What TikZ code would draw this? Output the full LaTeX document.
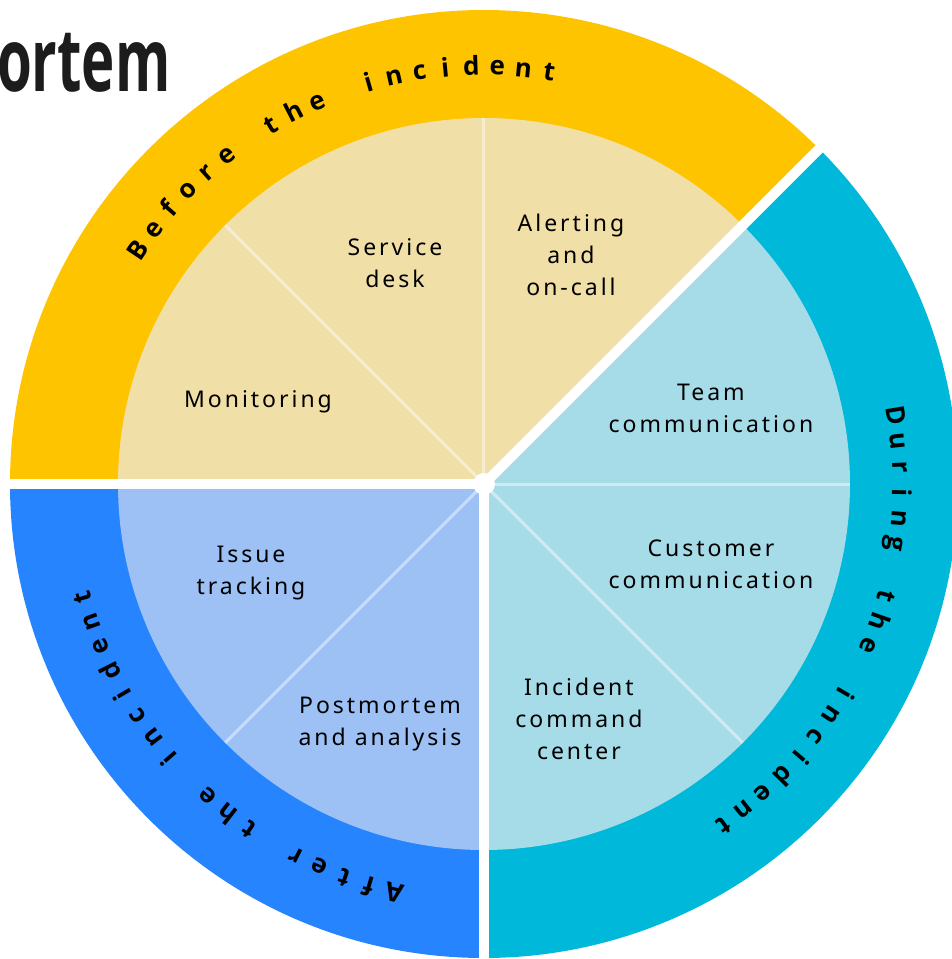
\documentclass[tikz,border=0pt]{standalone}
\usepackage{fontspec}
\setmainfont{Noto Sans}
\newfontfamily\labelfont[LetterSpace=13]{Noto Sans}
\newfontfamily\ringfont{Open Sans}
\newfontfamily\titlefont{Open Sans}
\definecolor{ringY}{HTML}{FFC400}
\definecolor{ringC}{HTML}{00B8D9}
\definecolor{ringB}{HTML}{2684FF}
\definecolor{paleY}{HTML}{F0DFA6}
\definecolor{paleC}{HTML}{A6DBE8}
\definecolor{paleB}{HTML}{9DC1F5}
\definecolor{titleink}{HTML}{1C1C1C}
\newcommand\ringfnt{\ringfont\bfseries\fontsize{26}{26}\selectfont}
\newcommand\wsp{\hspace{2pt}}
\newlength\chw
% #1 start angle, #2 end angle, #3 radius, #4 name prefix, #5 character list
\newcommand\ringplace[5]{%
  \gdef\totw{0}\gdef\nch{0}%
  \foreach \ch in {#5}{%
    \settowidth{\chw}{\ringfnt\ch}%
    \pgfmathsetmacro\tmp{\totw+\chw}\xdef\totw{\tmp}%
    \pgfmathtruncatemacro\tmpn{\nch+1}\xdef\nch{\tmpn}%
  }%
  \pgfmathsetmacro\gapw{((#1-#2)*pi/180*#3 - \totw)/(\nch-1)}%
  \xdef\gapw{\gapw}%
  \gdef\pos{0}%
  \foreach \ch [count=\i] in {#5}{%
    \settowidth{\chw}{\ringfnt\ch}%
    \pgfmathsetmacro\ang{#1 - (\pos + \chw/2)/#3*180/pi}%
    \node[ringchar, rotate=\ang-90] (#4\i) at (\ang:#3) {\ch};
    \pgfmathsetmacro\tmp{\pos+\chw+\gapw}\xdef\pos{\tmp}%
  }%
}
\begin{document}
\begin{tikzpicture}[x=1pt,y=1pt,
  lbl/.style={font=\labelfont\fontsize{23}{32}\selectfont, align=center, text=black, inner sep=0},
  sepline/.style={white, line width=10pt},
  thinline/.style={white, opacity=0.45, line width=3pt},
  ringchar/.style={font=\ringfnt, text=black, inner sep=0, anchor=base},
]
\useasboundingbox (-484,-475) rectangle (467,484);
\def\Ro{474}\def\Ri{366}\def\Rt{409}
\coordinate (c) at (0,0);
% outer ring sectors
\fill[ringY] (c) -- (180:\Ro) arc[start angle=180,end angle=45,radius=\Ro] -- cycle;
\fill[ringC] (c) -- (45:\Ro) arc[start angle=45,end angle=-90,radius=\Ro] -- cycle;
\fill[ringB] (c) -- (-90:\Ro) arc[start angle=-90,end angle=-180,radius=\Ro] -- cycle;
% inner sectors
\fill[paleY] (c) -- (180:\Ri) arc[start angle=180,end angle=45,radius=\Ri] -- cycle;
\fill[paleC] (c) -- (45:\Ri) arc[start angle=45,end angle=-90,radius=\Ri] -- cycle;
\fill[paleB] (c) -- (-90:\Ri) arc[start angle=-90,end angle=-180,radius=\Ri] -- cycle;
% thin dividers
\foreach \a in {135,90,0,-45,-135}
  \draw[thinline] (c) -- (\a:\Ri);
% thick separators
\draw[sepline] (c) -- (180:478);
\draw[sepline] (c) -- (45:478);
\draw[sepline] (c) -- (-90:478);
\fill[white] (c) circle (11);
% ring texts
\ringplace{146}{81}{\Rt}{bf}{B,e,f,o,r,e,\wsp,t,h,e,\wsp,i,n,c,i,d,e,n,t}
\ringplace{9.5}{-55}{\Rt}{du}{D,u,r,i,n,g,\wsp,t,h,e,\wsp,i,n,c,i,d,e,n,t}
\ringplace{257.6}{195.8}{\Rt}{af}{A,f,t,e,r,\wsp,t,h,e,\wsp,i,n,c,i,d,e,n,t}
% labels
\node[lbl] (sd) at (-89,221) {Service\\desk};
\node[lbl] (al) at (87,229) {Alerting\\and\\on-call};
\node[lbl] (mo) at (-226,82) {Monitoring};
\node[lbl] (tc) at (227,76) {Team\\communication};
\node[lbl] (cc) at (227,-80) {Customer\\communication};
\node[lbl] (ic) at (95,-235) {Incident\\command\\center};
\node[lbl] (it) at (-233,-89) {Issue\\tracking};
\node[lbl] (pm) at (-104,-240) {Postmortem\\and analysis};
% title fragment
\node[font=\titlefont\bfseries\fontsize{88}{88}\selectfont, text=titleink, anchor=base west, inner sep=0, xscale=0.64] (title) at (-487,392) {ortem};
\end{tikzpicture}
\end{document}
